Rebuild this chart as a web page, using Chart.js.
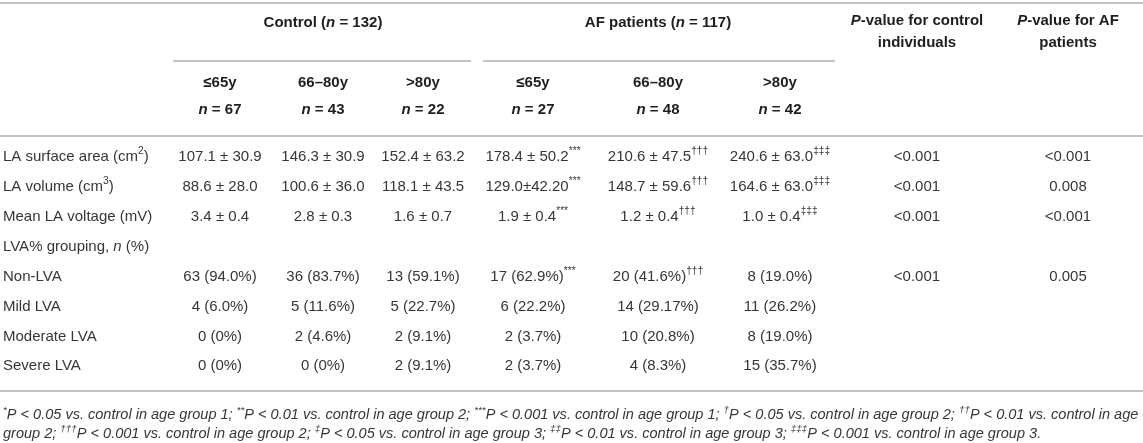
<!DOCTYPE html>
<html><head><meta charset="utf-8">
<script src="https://cdn.jsdelivr.net/npm/chart.js@4.4.1/dist/chart.umd.min.js"></script>
<style>html,body{margin:0;padding:0;background:#fff;}#wrap{width:1143px;height:443px;position:relative;}</style>
</head><body><div id="wrap"><canvas id="c"></canvas></div>
<script>
// ---- table content (markup: ~ toggles italic, ^ toggles superscript) ----
const groupHeaders = ['Control (~n~ = 132)', 'AF patients (~n~ = 117)'];
const ageLabels = ['≤65y', '66–80y', '>80y', '≤65y', '66–80y', '>80y'];
const groupSizes = ['~n~ = 67', '~n~ = 43', '~n~ = 22', '~n~ = 27', '~n~ = 48', '~n~ = 42'];
const pHeaders = [['~P~-value for control', 'individuals'], ['~P~-value for AF', 'patients']];
const rowLabels = ['LA surface area (cm^2^)', 'LA volume (cm^3^)', 'Mean LA voltage (mV)', 'LVA% grouping, ~n~ (%)', 'Non-LVA', 'Mild LVA', 'Moderate LVA', 'Severe LVA'];
const control65 = ['107.1 ± 30.9', '88.6 ± 28.0', '3.4 ± 0.4', '', '63 (94.0%)', '4 (6.0%)', '0 (0%)', '0 (0%)'];
const control6680 = ['146.3 ± 30.9', '100.6 ± 36.0', '2.8 ± 0.3', '', '36 (83.7%)', '5 (11.6%)', '2 (4.6%)', '0 (0%)'];
const control80 = ['152.4 ± 63.2', '118.1 ± 43.5', '1.6 ± 0.7', '', '13 (59.1%)', '5 (22.7%)', '2 (9.1%)', '2 (9.1%)'];
const af65 = ['178.4 ± 50.2^***^', '129.0±42.20^***^', '1.9 ± 0.4^***^', '', '17 (62.9%)^***^', '6 (22.2%)', '2 (3.7%)', '2 (3.7%)'];
const af6680 = ['210.6 ± 47.5^†††^', '148.7 ± 59.6^†††^', '1.2 ± 0.4^†††^', '', '20 (41.6%)^†††^', '14 (29.17%)', '10 (20.8%)', '4 (8.3%)'];
const af80 = ['240.6 ± 63.0^‡‡‡^', '164.6 ± 63.0^‡‡‡^', '1.0 ± 0.4^‡‡‡^', '', '8 (19.0%)', '11 (26.2%)', '8 (19.0%)', '15 (35.7%)'];
const pControl = ['<0.001', '<0.001', '<0.001', '', '<0.001', '', '', ''];
const pAF = ['<0.001', '0.008', '<0.001', '', '0.005', '', '', ''];
const footnotes = [
  '^*^P < 0.05 vs. control in age group 1; ^**^P < 0.01 vs. control in age group 2; ^***^P < 0.001 vs. control in age group 1; ^†^P < 0.05 vs. control in age group 2; ^††^P < 0.01 vs. control in age',
  'group 2; ^†††^P < 0.001 vs. control in age group 2; ^‡^P < 0.05 vs. control in age group 3; ^‡‡^P < 0.01 vs. control in age group 3; ^‡‡‡^P < 0.001 vs. control in age group 3.'
];
const bodyColumns = [control65, control6680, control80, af65, af6680, af80, pControl, pAF];

// ---- layout of the grid (styles / positions, not data) ----
const L = {
  labelX: 3,
  colX: [220, 323, 423, 533, 658, 780, 917, 1068],
  groupX: [323, 658],
  groupSpan: [[173, 471], [483, 835]],
  rowY0: 157, rowPitch: 29.9,           // body row 0 centre & pitch (px)
  pxTop: 3, pxGroup: 23, pxP1: 21, pxP2: 43, pxUnder: 61, pxAge: 83, pxN: 110,
  pxHeadLine: 136, pxBottom: 391, pxFoot: [415, 434],
  footRight: 1139,
  font: '"Liberation Sans", Arial, Helvetica, sans-serif',
  size: 15, headSize: 15,
  text: '#363636', head: '#1e1e1e', rule: '#c2c2c2'
};
const U = px => (px - L.rowY0) / L.rowPitch;   // px -> row units of the y scale

// cells -> scatter points positioned through the chart's scales
const cellPts = [], cellTxt = [];
bodyColumns.forEach((col, c) => col.forEach((t, r) => { if (t) { cellPts.push({x: L.colX[c], y: r}); cellTxt.push(t); } }));
const labelPts = rowLabels.map((t, r) => ({x: L.labelX, y: r}));

function parse(s, baseItalic) {
  const segs = []; let it = baseItalic, sup = false, buf = '';
  const push = () => { if (buf) segs.push({t: buf, it, sup}); buf = ''; };
  for (const ch of s) {
    if (ch === '~') { push(); it = !it; }
    else if (ch === '^') { push(); sup = !sup; }
    else buf += ch;
  }
  push(); return segs;
}
function fontFor(seg, size, bold) {
  const sz = seg.sup ? size * 0.68 : size;
  return (seg.it ? 'italic ' : '') + (bold ? 'bold ' : '') + sz.toFixed(2) + 'px ' + L.font;
}
function measure(ctx, s, o) {
  const size = o.size || L.size; let w = 0;
  const segs = parse(s, !!o.italic);
  segs.forEach(g => { ctx.font = fontFor(g, size, o.bold); g.w = ctx.measureText(g.t).width; w += g.w; });
  return {segs, w, size};
}
function rich(ctx, s, x, y, o) {
  const m = measure(ctx, s, o);
  let cx = o.align === 'left' ? x : x - m.w / 2;
  ctx.fillStyle = o.color || L.text;
  ctx.textBaseline = 'middle'; ctx.textAlign = 'left';
  m.segs.forEach(g => {
    ctx.font = fontFor(g, m.size, o.bold);
    ctx.fillText(g.t, cx, g.sup ? y - m.size * 0.36 : y);
    cx += g.w;
  });
}

const tablePlugin = {
  id: 'table',
  afterDatasetsDraw(chart) {
    const ctx = chart.ctx, xs = chart.scales.x, ys = chart.scales.y;
    const X = v => xs.getPixelForValue(v), Y = px => ys.getPixelForValue(U(px));
    ctx.save();
    // rules
    ctx.strokeStyle = L.rule; ctx.lineWidth = 2;
    const hline = (x0, x1, py) => { ctx.beginPath(); ctx.moveTo(X(x0), Y(py)); ctx.lineTo(X(x1), Y(py)); ctx.stroke(); };
    hline(xs.min, xs.max, L.pxTop);
    hline(xs.min, xs.max, L.pxHeadLine);
    hline(xs.min, xs.max, L.pxBottom);
    L.groupSpan.forEach(sp => hline(sp[0], sp[1], L.pxUnder));
    // header
    const H = {bold: true, color: L.head, size: L.headSize};
    groupHeaders.forEach((t, i) => rich(ctx, t, X(L.groupX[i]), Y(L.pxGroup), H));
    pHeaders.forEach((lines, i) => {
      rich(ctx, lines[0], X(L.colX[6 + i]), Y(L.pxP1), H);
      rich(ctx, lines[1], X(L.colX[6 + i]), Y(L.pxP2), H);
    });
    ageLabels.forEach((t, i) => rich(ctx, t, X(L.colX[i]), Y(L.pxAge), H));
    groupSizes.forEach((t, i) => rich(ctx, t, X(L.colX[i]), Y(L.pxN), H));
    // body cells, at the dataset elements' positions
    chart.getDatasetMeta(0).data.forEach((el, i) => rich(ctx, cellTxt[i], el.x, el.y, {}));
    chart.getDatasetMeta(1).data.forEach((el, i) => rich(ctx, rowLabels[i], el.x, el.y, {align: 'left'}));
    // footnotes: italic, sized so the first line spans the table width
    const base = 14;
    const w0 = measure(ctx, footnotes[0], {italic: true, size: base}).w;
    const fs = base * (X(L.footRight) - X(L.labelX)) / w0;
    footnotes.forEach((t, i) => rich(ctx, t, X(L.labelX), Y(L.pxFoot[i]), {align: 'left', italic: true, size: fs}));
    ctx.restore();
  }
};

new Chart(document.getElementById('c'), {
  type: 'scatter',
  data: { datasets: [
    { label: 'cells', data: cellPts, pointRadius: 0, pointHoverRadius: 0 },
    { label: 'rows', data: labelPts, pointRadius: 0, pointHoverRadius: 0 }
  ]},
  options: {
    responsive: true, maintainAspectRatio: false, animation: false, events: [],
    layout: { padding: 0 },
    plugins: { legend: { display: false }, tooltip: { enabled: false }, title: { display: false } },
    scales: {
      x: { type: 'linear', min: 0, max: 1143, display: false },
      y: { type: 'linear', min: U(0), max: U(443), reverse: true, display: false }
    }
  },
  plugins: [tablePlugin]
});
</script></body></html>
